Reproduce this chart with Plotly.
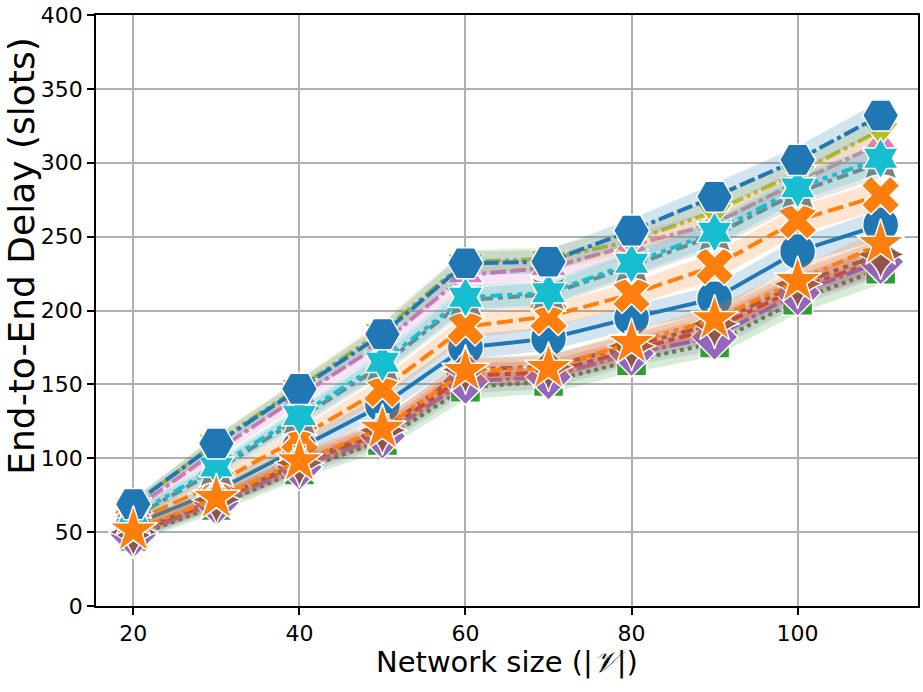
import plotly.graph_objects as go

network_size = [20, 30, 40, 50, 60, 70, 80, 90, 100, 110]

# mean end-to-end delay per curve (slots)
delay_1 = [55, 78, 107, 136, 175, 181, 195, 208, 240, 258]
delay_2 = [57, 83, 114, 147, 189, 196, 211, 230, 261, 278]
delay_3 = [47, 68, 92, 112, 148, 152, 166, 178, 207, 228]
delay_4 = [49, 71, 96, 117, 156, 158, 173, 188, 215, 234]
delay_5 = [48, 70, 94, 115, 152, 155, 171, 182, 212, 233]
delay_6 = [50, 72, 97, 119, 160, 162, 176, 191, 218, 238]
delay_7 = [65, 105, 142, 178, 224, 229, 244, 259, 287, 313]
delay_8 = [60, 92, 127, 163, 207, 211, 230, 251, 280, 300]
delay_9 = [68, 111, 148, 186, 233, 235, 247, 267, 293, 322]
delay_10 = [61, 94, 129, 165, 209, 212, 232, 253, 283, 303]
delay_11 = [69, 110, 147, 184, 232, 233, 254, 277, 302, 332]
delay_12 = [51, 73, 98, 120, 159, 161, 178, 194, 220, 245]

# half width of the shaded confidence band
ci_half = [4, 5, 6, 7, 8, 8, 8, 9, 9, 10]

LW = 4  # line width in px, dash patterns are in units of it


def dash(*units):
    return ",".join(f"{u * LW:g}px" for u in units)


curves = [
    (delay_1, "#1f77b4", "circle", 36, "solid"),
    (delay_2, "#ff7f0e", "x", 34, dash(4, 1.5)),
    (delay_3, "#2ca02c", "square", 30, dash(1, 1)),
    (delay_4, "#d62728", "cross", 32, dash(3, 1.25, 1.5, 1.25)),
    (delay_5, "#9467bd", "diamond", 36, dash(5, 1, 1, 1)),
    (delay_6, "#8c564b", "star-diamond", 36, dash(3, 1.25, 1.25, 1.25, 1.25, 1.25)),
    (delay_7, "#e377c2", "triangle-up", 32, dash(4, 1, 4, 1, 1, 1)),
    (delay_8, "#7f7f7f", "star-square", 32, dash(3, 1.25, 3, 1.25, 1.25, 1.25)),
    (delay_9, "#bcbd22", "triangle-down", 32, dash(4, 1, 1, 1, 1, 1)),
    (delay_10, "#17becf", "hexagram", 31, dash(3, 1.25, 1.25, 1.25, 1.25, 1.25, 1.25, 1.25)),
    (delay_11, "#1f77b4", "hexagon2", 36, dash(4, 1, 4, 1, 4, 1, 1, 1)),
    (delay_12, "#ff7f0e", "star", 36, dash(3, 1.25, 3, 1.25, 1.25, 1.25, 1.25, 1.25)),
]


def rgba(hex_color, alpha):
    h = hex_color.lstrip("#")
    r, g, b = int(h[0:2], 16), int(h[2:4], 16), int(h[4:6], 16)
    return f"rgba({r},{g},{b},{alpha})"


fig = go.Figure()

for values, color, symbol, msize, dsh in curves:
    upper = [v + c for v, c in zip(values, ci_half)]
    lower = [v - c for v, c in zip(values, ci_half)]
    fig.add_trace(go.Scatter(
        x=network_size + network_size[::-1],
        y=upper + lower[::-1],
        fill="toself",
        fillcolor=rgba(color, 0.2),
        line=dict(width=0),
        mode="lines",
        hoverinfo="skip",
        showlegend=False,
    ))
    fig.add_trace(go.Scatter(
        x=network_size,
        y=values,
        mode="lines+markers",
        line=dict(color=color, width=LW, dash=dsh),
        marker=dict(symbol=symbol, size=msize, color=color,
                    line=dict(color="white", width=1.5)),
        showlegend=False,
    ))

axis_style = dict(
    showgrid=True, gridcolor="#b0b0b0", gridwidth=1.6,
    showline=True, linecolor="black", linewidth=1.8, mirror=True,
    ticks="outside", ticklen=7, tickwidth=1.6, tickcolor="black",
    zeroline=False, ticklabeloverflow="allow",
    tickfont=dict(family="DejaVu Sans", size=22, color="black"),
)

fig.update_xaxes(range=[15.5, 114.5], tickvals=[20, 40, 60, 80, 100], **axis_style)
fig.update_yaxes(range=[0, 400], tickvals=list(range(0, 401, 50)), **axis_style)

fig.update_layout(
    width=923, height=692,
    margin=dict(l=96, r=3, t=12, b=86),
    paper_bgcolor="white", plot_bgcolor="white",
    annotations=[
        dict(text="Network size (|<i>𝒱</i>|)", xref="paper", yref="paper",
             x=0.5, y=-0.094, xanchor="center", yanchor="middle",
             showarrow=False, font=dict(family="DejaVu Sans", size=29, color="black")),
        dict(text="End-to-End Delay (slots)", xref="paper", yref="paper",
             x=-0.090, y=0.591, xanchor="center", yanchor="middle", textangle=-90,
             showarrow=False, font=dict(family="DejaVu Sans", size=36, color="black")),
    ],
)

# drop the page's default body margin so the figure sits at the window corner
fig.write_html("out.html", config={"displayModeBar": False},
               post_script="document.body.style.margin = '0';")
